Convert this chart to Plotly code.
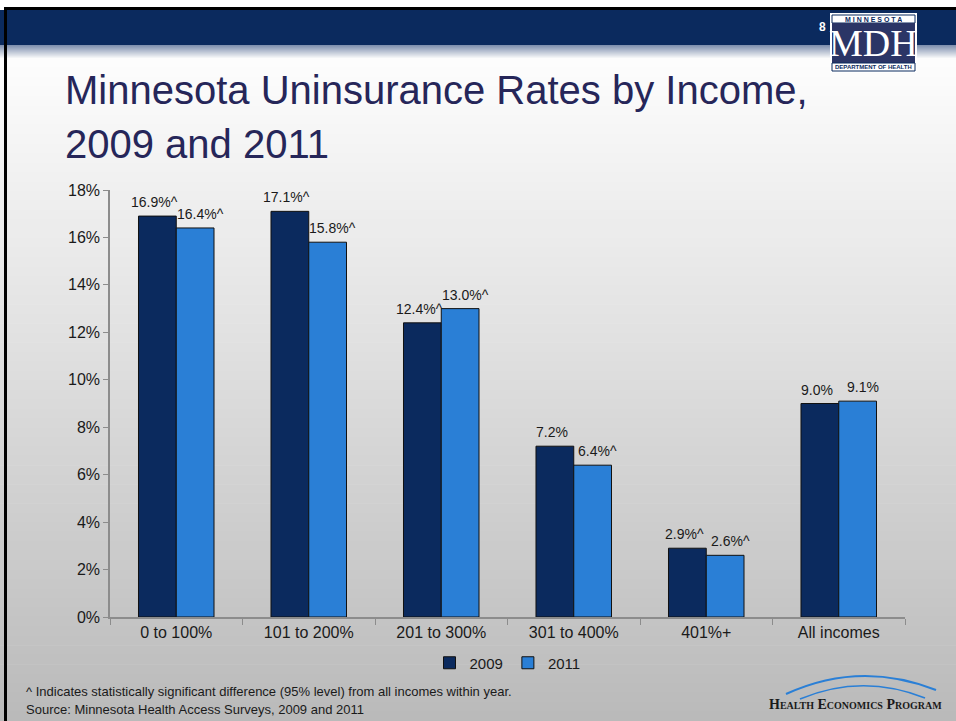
import plotly.graph_objects as go

# ---- data ---------------------------------------------------------------
categories = ["0 to 100%", "101 to 200%", "201 to 300%", "301 to 400%", "401%+", "All incomes"]
rates_2009 = [16.9, 17.1, 12.4, 7.2, 2.9, 9.0]
rates_2011 = [16.4, 15.8, 13.0, 6.4, 2.6, 9.1]
# "^" = significantly different from all incomes within the year
sig_2009 = [True, True, True, False, True, False]
sig_2011 = [True, True, True, True, True, False]
y_ticks = [0, 2, 4, 6, 8, 10, 12, 14, 16, 18]

NAVY = "#0b2a5e"
BLUE = "#2a7fd6"
FONT = "Liberation Sans, Arial, Helvetica, sans-serif"
SERIF = "Liberation Serif, Times New Roman, serif"

W, H = 956, 721
L, R, T, B = 110, 905, 190, 617


def px(x):
    return (x - L) / (R - L)


def py(y):
    return (B - y) / (B - T)


def labels(values, flags):
    return [f"{v:.1f}%" + ("^" if f else "") for v, f in zip(values, flags)]


fig = go.Figure()
fig.add_trace(go.Bar(
    name="2009", x=categories, y=rates_2009,
    marker=dict(color=NAVY, line=dict(color="#111111", width=1)),
))
fig.add_trace(go.Bar(
    name="2011", x=categories, y=rates_2011,
    marker=dict(color=BLUE, line=dict(color="#111111", width=1)),
))

shapes = []


def rect(x0, y0, x1, y1, color, layer="below", line=None):
    shapes.append(dict(
        type="rect", xref="paper", yref="paper",
        x0=px(x0), x1=px(x1), y0=py(y1), y1=py(y0),
        fillcolor=color, line=line or dict(width=0), layer=layer,
    ))


def mix(c0, c1, t):
    return "rgb(%d,%d,%d)" % tuple(round(a + (b - a) * t) for a, b in zip(c0, c1))


# slide body: light to grey vertical gradient
n = 70
top, bot = 58, H
for i in range(n):
    y0 = top + (bot - top) * i / n
    y1 = top + (bot - top) * (i + 1) / n + 0.6
    rect(0, y0, W, y1, mix((253, 253, 253), (186, 186, 186), i / (n - 1)))

# header band and the soft strip under it
rect(0, 10, W, 45.5, NAVY)
m = 14
for i in range(m):
    y0 = 45 + 14 * i / m
    y1 = 45 + 14 * (i + 1) / m + 0.6
    rect(0, y0, W, y1, mix((128, 145, 175), (252, 252, 252), i / (m - 1)))

# black frame on top and left
rect(4, 7, W, 10, "#000000")
rect(4, 7, 7, H, "#000000")

# MDH logo block
rect(830, 13, 917, 73, "#ffffff", layer="above")
rect(832, 15, 915, 23, "#ffffff", layer="above", line=dict(color=NAVY, width=1))
rect(832, 23, 915, 63, "#2b3566", layer="above")
rect(832, 63, 915, 71, "#ffffff", layer="above", line=dict(color=NAVY, width=1))


# Health Economics Program arcs
def arc(x0, y0, xc, yc, x1, y1, width):
    shapes.append(dict(
        type="path", xref="paper", yref="paper",
        path=f"M {px(x0)},{py(y0)} Q {px(xc)},{py(yc)} {px(x1)},{py(y1)}",
        line=dict(color="#2a7fd6", width=width), layer="above",
    ))


arc(786, 694, 860, 660, 936, 690, 2.0)
arc(800, 699, 862, 673, 925, 698, 1.6)

annotations = [
    dict(text="Minnesota Uninsurance Rates by Income,", x=px(63), y=py(90),
         xanchor="left", yanchor="middle", showarrow=False,
         font=dict(size=40, color="#262659", family=FONT)),
    dict(text="2009 and 2011", x=px(63), y=py(144),
         xanchor="left", yanchor="middle", showarrow=False,
         font=dict(size=40, color="#262659", family=FONT)),
    dict(text="^ Indicates statistically significant difference (95% level) from all incomes within year.",
         x=px(24), y=py(691), xanchor="left", yanchor="middle", showarrow=False,
         font=dict(size=13, color="#1a1a1a", family=FONT)),
    dict(text="Source: Minnesota Health Access Surveys, 2009 and 2011",
         x=px(24), y=py(709), xanchor="left", yanchor="middle", showarrow=False,
         font=dict(size=13, color="#1a1a1a", family=FONT)),
    dict(text="<b>8</b>", x=px(822), y=py(27), xanchor="center", yanchor="middle",
         showarrow=False, font=dict(size=12, color="#ffffff", family=FONT)),
    dict(text="<b>M I N N E S O T A</b>", x=px(873.5), y=py(19), xanchor="center",
         yanchor="middle", showarrow=False, height=8,
         font=dict(size=7, color=NAVY, family=FONT)),
    dict(text="MDH", x=px(873.5), y=py(43.5), xanchor="center", yanchor="middle",
         showarrow=False, height=38,
         font=dict(size=38, color="#ffffff", family=SERIF)),
    dict(text="<b>DEPARTMENT OF HEALTH</b>", x=px(873.5), y=py(67), xanchor="center",
         yanchor="middle", showarrow=False, height=7,
         font=dict(size=6, color=NAVY, family=FONT)),
    dict(text="<b>Health Economics Program</b>", x=px(855), y=py(704), xanchor="center",
         yanchor="middle", showarrow=False,
         font=dict(size=14, color="#1a1a1a", family=SERIF, variant="small-caps")),
]
for a in annotations:
    a.update(xref="paper", yref="paper")

# value labels sit just above each bar; the 2011 labels lean a little to the right
for values, flags, shift in ((rates_2009, sig_2009, -22), (rates_2011, sig_2011, 24)):
    for cat, v, txt in zip(categories, values, labels(values, flags)):
        annotations.append(dict(
            text=txt, x=cat, y=v, xref="x", yref="y", xshift=shift, yshift=4,
            xanchor="center", yanchor="bottom", showarrow=False,
            font=dict(size=14, color="#1a1a1a", family=FONT),
        ))

fig.update_layout(
    width=W, height=H,
    margin=dict(l=L, r=W - R, t=T, b=H - B, pad=0),
    paper_bgcolor="#ffffff", plot_bgcolor="rgba(0,0,0,0)",
    font=dict(family=FONT, color="#1a1a1a", size=16),
    barmode="group", bargap=0.43, bargroupgap=0,
    showlegend=True,
    legend=dict(orientation="h", x=0.5, xanchor="center", y=py(663), yanchor="middle",
                font=dict(size=15, color="#1a1a1a"), itemwidth=30,
                bgcolor="rgba(0,0,0,0)", traceorder="normal"),
    shapes=shapes, annotations=annotations,
    xaxis=dict(showline=True, linecolor="#8c8c8c", linewidth=1.5, ticks="outside",
               tickson="boundaries", ticklen=6, tickcolor="#8c8c8c",
               tickfont=dict(size=16, color="#1a1a1a"), showgrid=False, fixedrange=True),
    yaxis=dict(range=[0, 18], tickmode="array", tickvals=y_ticks,
               ticktext=[f"{v}%" for v in y_ticks], showline=True,
               linecolor="#8c8c8c", linewidth=1.5, ticks="outside", ticklen=5,
               tickcolor="#8c8c8c", tickfont=dict(size=16, color="#1a1a1a"),
               showgrid=False, zeroline=False, fixedrange=True),
)

fig.write_html("out.html")
